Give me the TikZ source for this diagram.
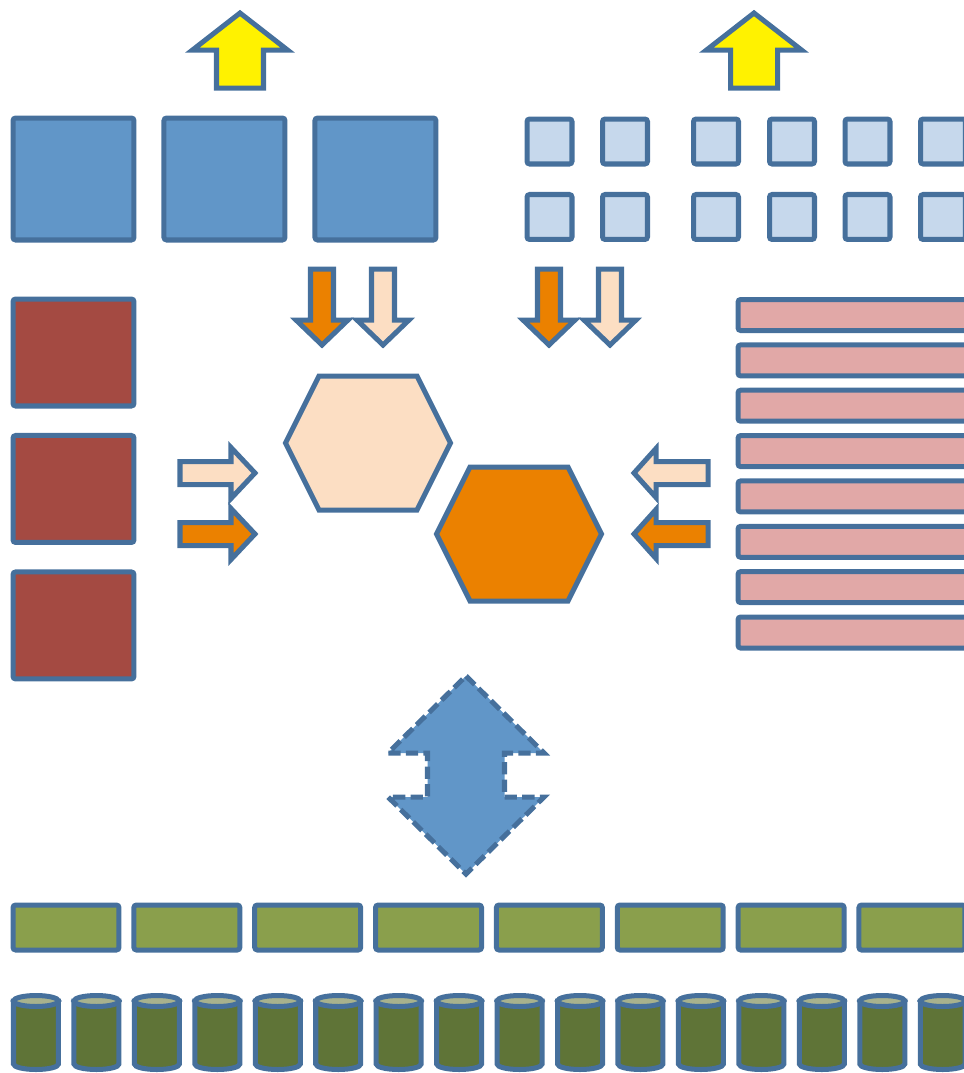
\documentclass[tikz,border=0pt]{standalone}
\usepackage[svgnames]{xcolor}
\usepackage{tikz}
\usetikzlibrary{calc,positioning}

\definecolor{edge}{RGB}{70,112,156}
\definecolor{boxblue}{RGB}{97,150,200}
\definecolor{paleblue}{RGB}{198,216,236}
\definecolor{brick}{RGB}{164,74,66}
\definecolor{rose}{RGB}{225,168,167}
\definecolor{amber}{RGB}{235,129,0}
\definecolor{peach}{RGB}{252,222,195}
\definecolor{olive}{RGB}{138,159,76}
\definecolor{moss}{RGB}{95,116,55}
\definecolor{sage}{RGB}{168,178,141}

\begin{document}
\begin{tikzpicture}[x=0.02cm, y=-0.02cm,
    box/.style={draw=edge, line width=2.85pt, rounded corners=1.5pt, inner sep=0pt},
    bigsq/.style={box, fill=boxblue, minimum width=2.42cm, minimum height=2.44cm},
    smallsq/.style={box, fill=paleblue, minimum width=0.9cm, minimum height=0.9cm},
    redsq/.style={box, fill=brick, minimum width=2.42cm, minimum height=2.14cm},
    bar/.style={box, fill=rose, minimum width=6cm, minimum height=0.62cm},
    slab/.style={box, fill=olive, minimum width=2.12cm, minimum height=0.9cm},
    outline/.style={draw=edge, line width=2.85pt, line join=miter}]
    \useasboundingbox (0,0) rectangle (964,1073);
    \clip (0,0) rectangle (964,1073);

    %% Boxes
    \node [bigsq] (sq1) at (73.5,179) {};
    \node at (sq1) [bigsq, xshift=3.02cm] (sq2) {};
    \node at (sq2) [bigsq, xshift=3.02cm] (sq3) {};
    \foreach \x [count=\i] in {549.5,625,716,792,867.5,943} {
        \node [smallsq] (top\i) at (\x,141.5) {};
        \node at (top\i) [smallsq, yshift=-1.51cm] (bot\i) {};
    }
    \node [redsq] (red1) at (73.5,352.5) {};
    \node at (red1) [redsq, yshift=-2.73cm] (red2) {};
    \node at (red2) [redsq, yshift=-2.73cm] (red3) {};
    \foreach \i in {0,...,7}
        \node [bar] (bar\i) at (888,{315+45.36*\i}) {};
    \foreach \i in {0,...,7}
        \node [slab] (slab\i) at ({66+120.85*\i},927.5) {};

    %% Hexagons
    \coordinate (hexA) at (368,443);
    \coordinate (hexB) at (519,534);
    \draw [outline, fill=peach] (hexA) ++(-82.5,0) -- ++(33.5,-67) -- ++(98,0) -- ++(33.5,67) -- ++(-33.5,67) -- ++(-98,0) -- cycle;
    \draw [outline, fill=amber] (hexB) ++(-82.5,0) -- ++(33.5,-67) -- ++(98,0) -- ++(33.5,67) -- ++(-33.5,67) -- ++(-98,0) -- cycle;

    %% Arrows
    \coordinate (lift1) at (240,13);
    \coordinate (lift2) at (754,13);
    \foreach \n in {lift1,lift2}
        \draw [outline, fill=yellow] (\n) -- ++(47.5,37) -- ++(-24,0) -- ++(0,38) -- ++(-47,0) -- ++(0,-38) -- ++(-24,0) -- cycle;
    \foreach \x/\c in {322/amber,383/peach,549/amber,610/peach} {
        \coordinate (drop\x) at (\x,345);
        \draw [outline, fill=\c] (drop\x) -- ++(-26,-25) -- ++(14.5,0) -- ++(0,-51) -- ++(23,0) -- ++(0,51) -- ++(14.5,0) -- cycle;
    }
    \foreach \y/\c in {473/peach,534/amber} {
        \coordinate (inL\y) at (255,\y);
        \coordinate (inR\y) at (634,\y);
        \draw [outline, fill=\c] (inL\y) -- ++(-24,-25.5) -- ++(0,14) -- ++(-51,0) -- ++(0,23) -- ++(51,0) -- ++(0,14) -- cycle;
        \draw [outline, fill=\c] (inR\y) -- ++(22,-24.5) -- ++(0,13) -- ++(52,0) -- ++(0,23) -- ++(-52,0) -- ++(0,13) -- cycle;
    }
    \coordinate (swap) at (466,775);
    \draw [outline, fill=boxblue, dash pattern=on 7pt off 3pt] (swap) ++(0,-99) -- ++(78,77) -- ++(-39.5,0) -- ++(0,44) -- ++(39.5,0) -- ++(-78,77) -- ++(-78,-77) -- ++(39.5,0) -- ++(0,-44) -- ++(-39.5,0) -- cycle;

    %% Cylinders
    \foreach \i in {0,...,15} {
        \coordinate (can\i) at ({36+60.45*\i},1001);
        \draw [outline, fill=moss] (can\i) ++(-22.5,0) -- ++(0,63) arc [start angle=180, end angle=360, x radius=0.45cm, y radius=0.11cm] -- ++(0,-63) -- cycle;
        \draw [outline, fill=sage] (can\i) ellipse [x radius=0.45cm, y radius=0.11cm];
    }
\end{tikzpicture}
\end{document}
